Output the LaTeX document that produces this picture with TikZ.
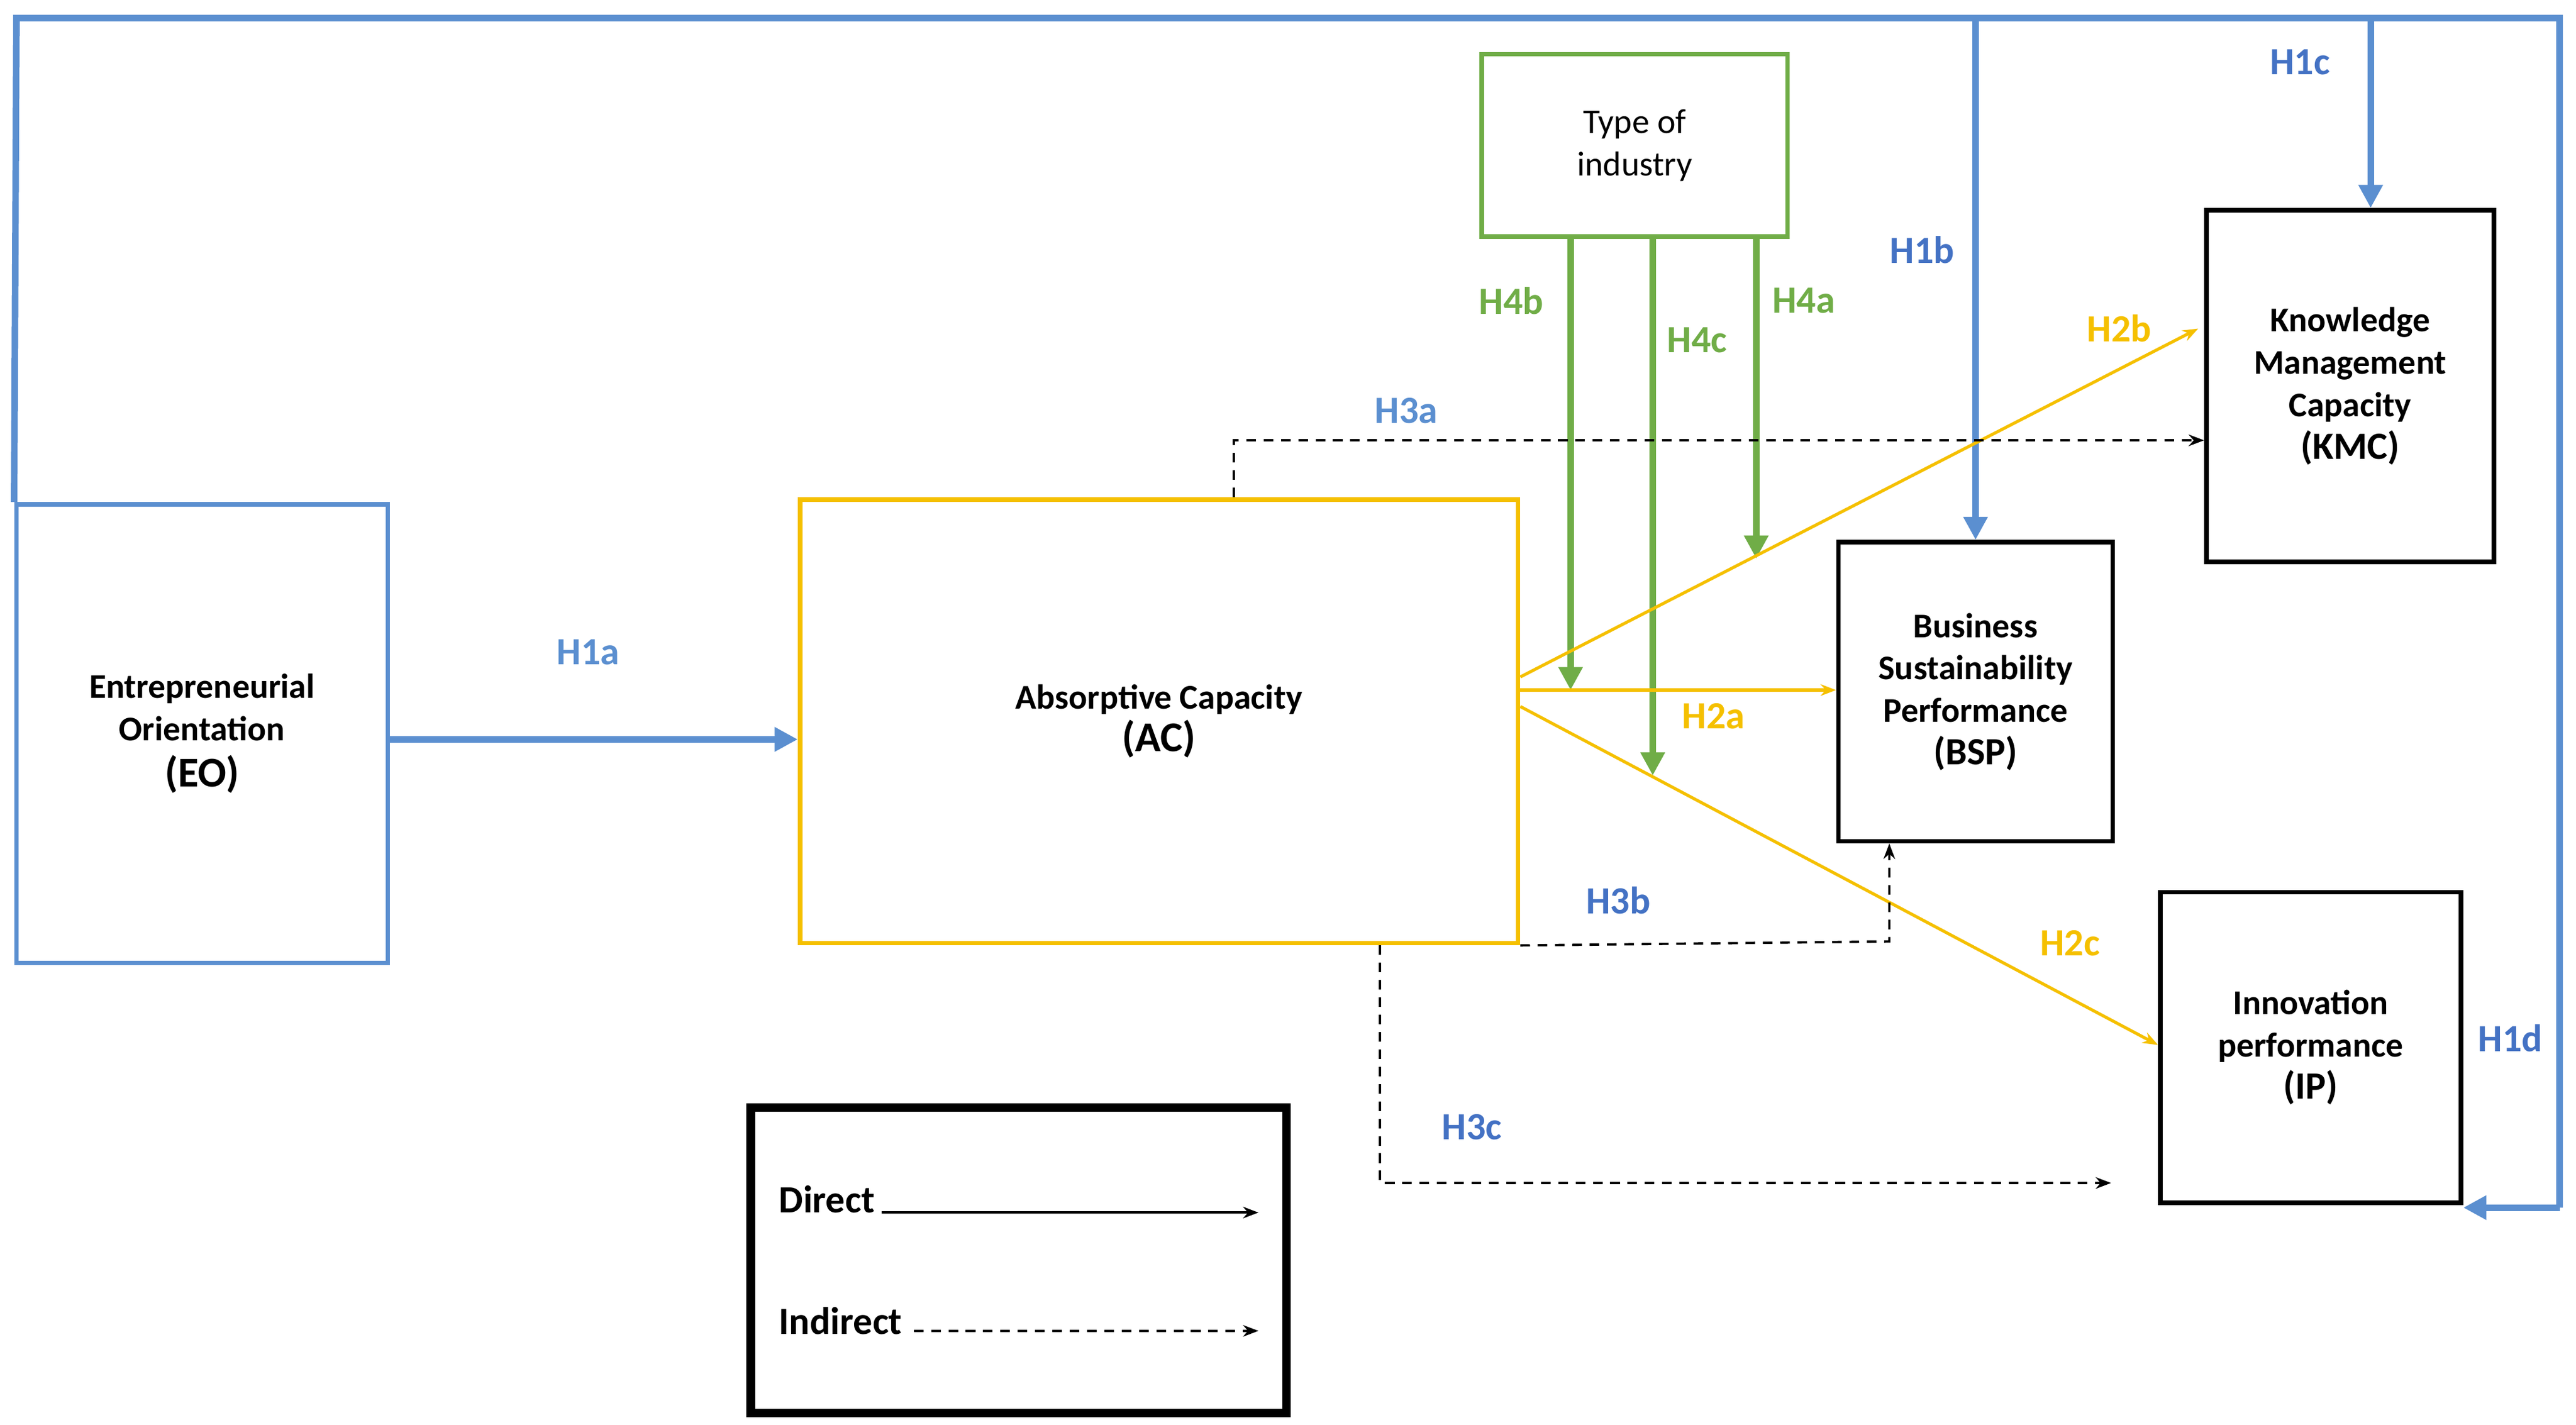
\documentclass[tikz,border=0pt]{standalone}
\usepackage{fontspec}
\setmainfont{Carlito}
\usetikzlibrary{arrows.meta,calc}
\definecolor{bl}{HTML}{5B8FD0}
\definecolor{bld}{HTML}{4472C4}
\definecolor{yl}{HTML}{F5C000}
\definecolor{gr}{HTML}{70AD47}
\begin{document}
\begin{tikzpicture}[x=0.03cm,y=-0.03cm,
 box/.style={draw,line width=2.4pt,align=center,font=\fontsize{18}{22}\selectfont\bfseries},
 lab/.style={font=\fontsize{20}{24}\selectfont\bfseries},
 blue/.style={draw=bl,line width=3.4pt,-{Triangle[length=12pt,width=12pt]}},
 green/.style={draw=gr,line width=3.4pt,-{Triangle[length=12pt,width=12pt]}},
 yel/.style={draw=yl,line width=1.6pt,-{Stealth[length=8pt]}},
 dsh/.style={draw=black,line width=1.2pt,dashed,dash pattern=on 5pt off 4pt,-{Stealth[length=8pt]}}]
\fill[white] (0,0) rectangle (1568,867);
\useasboundingbox (0,0) rectangle (1568,867);
\node[box,draw=bl,minimum width=6.78cm,minimum height=8.37cm] (EO) at (123,446.5) {Entrepreneurial\\Orientation\\[2pt]{\fontsize{22}{26}\selectfont(EO)}};
\node[box,draw=yl,minimum width=13.11cm,minimum height=8.1cm] (AC) at (705.5,439) {Absorptive Capacity\\{\fontsize{22}{26}\selectfont(AC)}};
\node[box,draw=gr,font=\fontsize{18}{22}\selectfont,minimum width=5.58cm,minimum height=3.33cm] (TI) at (995,88.5) {Type of\\industry};
\node[box,minimum width=5.01cm,minimum height=5.46cm] (BSP) at (1202.5,421) {Business\\Sustainability\\Performance\\{\fontsize{20}{24}\selectfont(BSP)}};
\node[box,minimum width=5.25cm,minimum height=6.42cm] (KMC) at (1430.5,235) {Knowledge\\Management\\Capacity\\{\fontsize{20}{24}\selectfont(KMC)}};
\node[box,minimum width=5.49cm,minimum height=5.67cm] (IP) at (1406.5,637.5) {Innovation\\performance\\{\fontsize{20}{24}\selectfont(IP)}};
\node[draw,line width=4.5pt,minimum width=9.78cm,minimum height=5.58cm] (LG) at (620,767) {};
% legend
\node[lab,anchor=west] (ld) at (470,730) {Direct};
\node[lab,anchor=west] (li) at (470,804) {Indirect};
\coordinate (ld2) at (766,738);
\coordinate (li2) at (766,810);
\draw[line width=1.2pt,-{Stealth[length=8pt]}] (ld.east|-ld2) -- (ld2);
\draw[dsh] ($(li.east|-li2)+(3,0)$) -- (li2);
% blue
\draw[blue] (EO.east|-0,450) -- (AC.west|-0,450);
\coordinate (tl) at (10,11);
\coordinate (tr) at (1558,11);
\coordinate (br) at (1558,735);
\draw[draw=bl,line width=3.4pt] (EO.north west) -- (tl) -- (tr) -- (br);
\draw[blue] (br) -- (IP.east|-br);
\draw[blue] (BSP.north|-tr) -- (BSP.north);
\draw[blue] (1443,11) -- (KMC.north-|1443,0);
% green
\draw[green] (TI.south-|956,0) -- (956,420);
\draw[green] (TI.south-|1006,0) -- (1006,472);
\draw[green] (TI.south-|1069,0) -- (1069,340);
% yellow
\draw[yel] (AC.east|-0,412) -- (1338,200);
\draw[yel] (AC.east|-0,420) -- (BSP.west|-0,420);
\draw[yel] (AC.east|-0,430) -- (IP.west|-0,636);
% dashed
\draw[dsh] (AC.north-|751,0) -- (751,268) -- (KMC.west|-0,268);
\draw[dsh] (AC.south east) -- (1150,573) -- (BSP.south-|1150,0);
\draw[dsh] (AC.south-|840,0) -- (840,720) -- (1285,720);
% labels
\node[lab,text=bl] (h1a) at (358,397) {H1a};
\node[lab,text=bld] (h1b) at (1170,152) {H1b};
\node[lab,text=bld] (h1c) at (1400,38) {H1c};
\node[lab,text=bld] (h1d) at (1528,632) {H1d};
\node[lab,text=yl] (h2a) at (1043,436) {H2a};
\node[lab,text=yl] (h2b) at (1290,200) {H2b};
\node[lab,text=yl] (h2c) at (1260,574) {H2c};
\node[lab,text=bl] (h3a) at (856,250) {H3a};
\node[lab,text=bld] (h3b) at (985,548) {H3b};
\node[lab,text=bld] (h3c) at (896,686) {H3c};
\node[lab,text=gr] (h4b) at (920,183) {H4b};
\node[lab,text=gr] (h4c) at (1033,207) {H4c};
\node[lab,text=gr] (h4a) at (1098,183) {H4a};
\end{tikzpicture}
\end{document}
